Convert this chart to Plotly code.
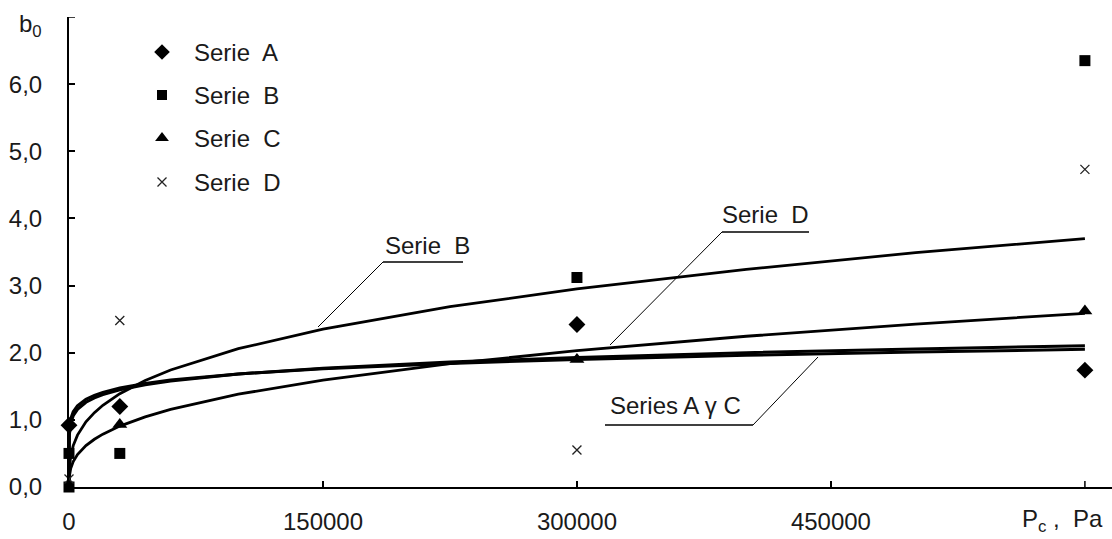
import plotly.graph_objects as go

# ---------------- data ----------------
pts_A_x = [0, 30000, 300000, 600000]
pts_A_y = [0.92, 1.2, 2.42, 1.74]
pts_B_x = [0, 0, 30000, 300000, 600000]
pts_B_y = [0.0, 0.5, 0.5, 3.12, 6.35]
pts_C_x = [30000, 300000, 600000]
pts_C_y = [0.93, 1.9, 2.62]
pts_D_x = [0, 30000, 300000, 600000]
pts_D_y = [0.12, 2.48, 0.55, 4.73]

# trend lines
trend_x = [0, 200, 1000, 2500, 5000, 10000, 15000, 20000, 30000, 45000,
           60000, 100000, 150000, 225000, 300000, 400000, 500000, 600000]
trend_B = [0, 0.27, 0.457, 0.617, 0.773, 0.970, 1.107, 1.217, 1.39, 1.587,
           1.743, 2.06, 2.35, 2.685, 2.95, 3.24, 3.49, 3.70]
trend_D = [0, 0.157, 0.276, 0.380, 0.484, 0.617, 0.711, 0.787, 0.907, 1.045,
           1.156, 1.382, 1.593, 1.836, 2.03, 2.245, 2.427, 2.587]
trend_A = [0, 0.774, 0.946, 1.061, 1.157, 1.262, 1.327, 1.376, 1.447, 1.523,
           1.578, 1.682, 1.770, 1.862, 1.93, 2.001, 2.057, 2.105]
trend_C = [0, 0.850, 1.015, 1.122, 1.211, 1.307, 1.366, 1.410, 1.475, 1.542,
           1.592, 1.684, 1.761, 1.841, 1.90, 1.961, 2.010, 2.050]

x_tickvals = [0, 150000, 300000, 450000]
x_ticktext = ["0", "150000", "300000", "450000"]
x_extra_tick = 600000          # tick with "Pc , Pa" text instead of a number
y_tickvals = [0, 1, 2, 3, 4, 5, 6]
y_ticktext = ["0,0", "1,0", "2,0", "3,0", "4,0", "5,0", "6,0"]
y_extra_tick = 7               # tick with "b0" text beside it

legend_names = ["Serie\u00a0 A", "Serie\u00a0 B", "Serie\u00a0 C", "Serie\u00a0 D"]

# ---------------- layout constants ----------------
W, H = 1112, 539
ML, MR, MT, MB = 69, 0, 17, 52
X_MAX = 616000
Y_MAX = 7.0
FONT = "Liberation Sans, Arial, sans-serif"
TXT = "#1a1a1a"


def px2x(px):
    return (px - ML) / (W - ML - MR) * X_MAX


def py2y(py):
    return (H - MB - py) / (H - MT - MB) * Y_MAX


def px2p(px):
    return (px - ML) / (W - ML - MR)


def py2p(py):
    return (H - MB - py) / (H - MT - MB)


fig = go.Figure()

for ty, w in [(trend_B, 2.8), (trend_D, 2.8), (trend_A, 3.0), (trend_C, 3.0)]:
    fig.add_trace(go.Scatter(x=trend_x, y=ty, mode="lines",
                             line=dict(color="black", width=w),
                             cliponaxis=False, hoverinfo="skip"))

fig.add_trace(go.Scatter(x=pts_A_x, y=pts_A_y, mode="markers", cliponaxis=False,
                         marker=dict(symbol="diamond", size=13, color="black")))
fig.add_trace(go.Scatter(x=pts_B_x, y=pts_B_y, mode="markers", cliponaxis=False,
                         marker=dict(symbol="square", size=11, color="black")))
fig.add_trace(go.Scatter(x=pts_C_x, y=pts_C_y, mode="markers", cliponaxis=False,
                         marker=dict(symbol="triangle-up", size=13, color="black")))
fig.add_trace(go.Scatter(x=pts_D_x, y=pts_D_y, mode="markers", cliponaxis=False,
                         marker=dict(symbol="x-thin", size=9,
                                     line=dict(color="#222", width=1.3))))

# manual legend
leg_rows = [52, 95, 138, 182]
leg_symbols = ["diamond", "square", "triangle-up", "x-thin"]
leg_sizes = [12, 10, 12, 9]
for row, sym, sz, name in zip(leg_rows, leg_symbols, leg_sizes, legend_names):
    marker = dict(symbol=sym, size=sz, color="black")
    if sym == "x-thin":
        marker["line"] = dict(color="#222", width=1.3)
    fig.add_trace(go.Scatter(x=[px2x(162)], y=[py2y(row)], mode="markers",
                             cliponaxis=False, marker=marker, hoverinfo="skip"))
    fig.add_annotation(xref="paper", yref="paper", x=px2p(192), y=py2p(row),
                       text=name, showarrow=False, xanchor="left", yanchor="middle",
                       font=dict(family=FONT, size=24, color=TXT))

# callout labels
callouts = [
    ("Serie\u00a0 B", 427, 245, (383, 463, 262), (383, 262, 318, 327)),
    ("Serie\u00a0 D", 765, 214, (722, 809, 232), (722, 232, 610, 345)),
    ("Series A \u03b3 C", 675, 405, (605, 753, 425), (753, 425, 818, 357)),
]
for text, tx, ty, (u0, u1, uy), (a0, b0, a1, b1) in callouts:
    fig.add_annotation(xref="paper", yref="paper", x=px2p(tx), y=py2p(ty),
                       text=text, showarrow=False, xanchor="center", yanchor="middle",
                       font=dict(family=FONT, size=24, color=TXT))
    fig.add_shape(type="line", xref="paper", yref="paper",
                  x0=px2p(u0), x1=px2p(u1), y0=py2p(uy), y1=py2p(uy),
                  line=dict(color="black", width=1.5))
    fig.add_shape(type="line", xref="paper", yref="paper",
                  x0=px2p(a0), y0=py2p(b0), x1=px2p(a1), y1=py2p(b1),
                  line=dict(color="black", width=1))

# extra ticks at the axis ends (labelled by the axis titles)
fig.add_shape(type="line", xref="x", yref="paper", x0=x_extra_tick, x1=x_extra_tick,
              y0=0, y1=6 / (H - MT - MB), line=dict(color="black", width=1.5))
fig.add_shape(type="line", xref="paper", yref="y", x0=0, x1=6 / (W - ML - MR),
              y0=y_extra_tick, y1=y_extra_tick, line=dict(color="black", width=1.5))

# axis titles
fig.add_annotation(xref="paper", yref="paper", x=px2p(30), y=py2p(25),
                   text="b<sub>0</sub>", showarrow=False,
                   xanchor="center", yanchor="middle",
                   font=dict(family=FONT, size=24, color=TXT))
fig.add_annotation(xref="paper", yref="paper", x=px2p(1062), y=py2p(520),
                   text="P<sub>c</sub> ,\u00a0 Pa", showarrow=False,
                   xanchor="center", yanchor="middle",
                   font=dict(family=FONT, size=24, color=TXT))

axis_common = dict(showgrid=False, zeroline=False, showline=True, linecolor="black",
                   linewidth=2, ticks="inside", ticklen=6, tickwidth=1.5,
                   tickcolor="black", tickfont=dict(family=FONT, size=24, color=TXT))

fig.update_layout(
    width=W, height=H,
    margin=dict(l=ML, r=MR, t=MT, b=MB, pad=0),
    plot_bgcolor="white", paper_bgcolor="white",
    showlegend=False,
    xaxis=dict(range=[0, X_MAX], tickvals=x_tickvals, ticktext=x_ticktext,
               ticklabelstandoff=12, **axis_common),
    yaxis=dict(range=[0, Y_MAX], tickvals=y_tickvals, ticktext=y_ticktext,
               ticklabelstandoff=20, **axis_common),
)

fig.write_html("out.html")
